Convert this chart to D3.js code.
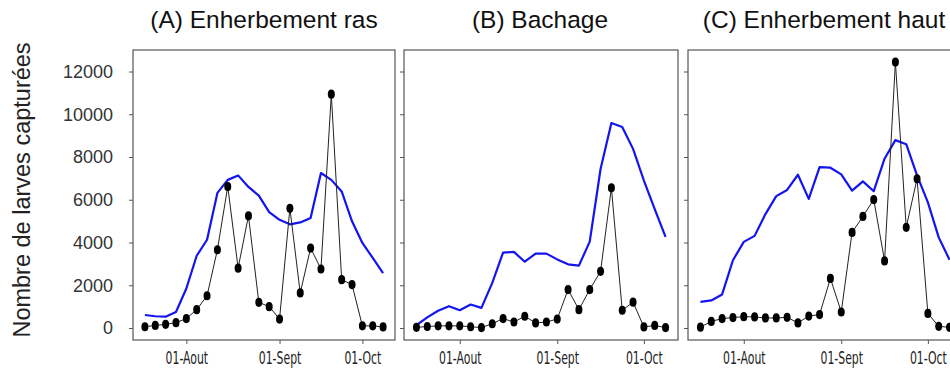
<!DOCTYPE html>
<html>
<head>
<meta charset="utf-8">
<script src="https://cdn.jsdelivr.net/npm/d3@7"></script>
<style>
  body { margin: 0; background: #fff; }
  svg { display: block; }
</style>
</head>
<body>
<div id="chart"></div>
<script>
// sampling dates are shown only through three tick labels, placed at sample numbers
const tickLabels = ["01-Aout", "01-Sept", "01-Oct"];
const tickSamples = [4, 13, 21];
const yTicks = [0, 2000, 4000, 6000, 8000, 10000, 12000];

const panelTitles = ["(A) Enherbement ras", "(B) Bachage", "(C) Enherbement haut"];

// captured larvae per sample (black points)
const capturesA = [60, 120, 170, 250, 440, 860, 1510, 3660, 6620, 2800, 5250, 1200, 1000, 420,
                   5600, 1640, 3740, 2760, 10940, 2260, 2030, 100, 100, 50];
const capturesB = [30, 70, 100, 100, 100, 60, 20, 200, 440, 280, 550, 240, 280, 420,
                   1800, 860, 1800, 2650, 6560, 830, 1210, 50, 120, 20];
const capturesC = [40, 310, 440, 490, 530, 520, 470, 470, 500, 240, 560, 630, 2320, 750,
                   4470, 5220, 6010, 3140, 12440, 4710, 6980, 680, 80, 30];

// trend curves (blue)
const trendA = [610, 550, 530, 750, 1850, 3380, 4130, 6320, 6930, 7140, 6600, 6190, 5420, 5060,
                4850, 4940, 5150, 7250, 6930, 6390, 4990, 3980, 3280, 2570];
const trendB = [130, 500, 810, 1020, 830, 1100, 940, 2110, 3530, 3560, 3100, 3480, 3480, 3210,
                2980, 2920, 4040, 7440, 9590, 9400, 8380, 6900, 5560, 4260];
const trendC = [1220, 1290, 1570, 3170, 4030, 4310, 5330, 6170, 6460, 7170, 6040, 7530, 7500, 7190,
                6430, 6860, 6400, 7920, 8790, 8600, 7140, 5880, 4240, 3190];

const width = 950, height = 369;
const plotTop = 50, plotBottom = 340;

const panels = [
  { title: panelTitles[0], captures: capturesA, trend: trendA, x0: 133, x1: 395, labels: true },
  { title: panelTitles[1], captures: capturesB, trend: trendB, x0: 404, x1: 678, labels: false },
  { title: panelTitles[2], captures: capturesC, trend: trendC, x0: 688, x1: 962, labels: false }
];

const svg = d3.select("#chart")
  .append("svg")
  .attr("width", width)
  .attr("height", height);

const y = d3.scaleLinear()
  .domain([-561, 13006])
  .range([plotBottom, plotTop]);

panels.forEach(p => {
  const x = d3.scaleLinear()
    .domain([-1.15, 24.15])
    .range([p.x0, p.x1]);

  const g = svg.append("g");

  // title
  g.append("text")
    .attr("x", (p.x0 + p.x1) / 2 - (p.labels ? 0 : 1))
    .attr("y", 28)
    .attr("text-anchor", "middle")
    .style("font-family", "'Liberation Sans', Arial, sans-serif")
    .style("font-size", "24.5px")
    .style("fill", "#111")
    .text(p.title);

  // y axis
  const yAxis = g.append("g")
    .attr("transform", `translate(${p.x0},0)`)
    .call(d3.axisLeft(y)
      .tickValues(yTicks)
      .tickSize(4)
      .tickPadding(16)
      .tickFormat(p.labels ? d => d : () => ""));
  yAxis.select(".domain").remove();
  yAxis.selectAll("line").attr("stroke", "#555");
  yAxis.selectAll("text")
    .style("font-family", "'Liberation Sans', Arial, sans-serif")
    .style("font-size", "18px")
    .style("fill", "#333");

  // x axis
  const xAxis = g.append("g")
    .attr("transform", `translate(0,${plotBottom})`)
    .call(d3.axisBottom(x)
      .tickValues(tickSamples)
      .tickSize(4)
      .tickFormat((d, i) => tickLabels[i]));
  xAxis.select(".domain").remove();
  xAxis.selectAll("line").attr("stroke", "#555");
  xAxis.selectAll("text")
    .attr("y", 24)
    .attr("dy", 0)
    .attr("transform", "scale(0.64,1)")
    .style("font-family", "'DejaVu Sans', sans-serif")
    .style("font-size", "17px")
    .style("fill", "#222");

  // frame
  g.append("rect")
    .attr("x", p.x0)
    .attr("y", plotTop)
    .attr("width", p.x1 - p.x0)
    .attr("height", plotBottom - plotTop)
    .attr("fill", "none")
    .attr("stroke", "#555")
    .attr("stroke-width", 1.2);

  const line = d3.line()
    .x((d, i) => x(i))
    .y(d => y(d));

  g.append("path")
    .datum(p.trend)
    .attr("d", line)
    .attr("fill", "none")
    .attr("stroke", "#1414f0")
    .attr("stroke-width", 2.2)
    .attr("stroke-linejoin", "round");

  g.append("path")
    .datum(p.captures)
    .attr("d", line)
    .attr("fill", "none")
    .attr("stroke", "#222")
    .attr("stroke-width", 1);

  g.selectAll(".pt")
    .data(p.captures)
    .enter().append("ellipse")
    .attr("class", "pt")
    .attr("cx", (d, i) => x(i))
    .attr("cy", d => y(d))
    .attr("rx", 3.5)
    .attr("ry", 4.6)
    .attr("fill", "#000");
});

// shared y label
svg.append("text")
  .attr("transform", "translate(30,190) rotate(-90)")
  .attr("text-anchor", "middle")
  .style("font-family", "'Liberation Sans', Arial, sans-serif")
  .style("font-size", "23.5px")
  .style("fill", "#222")
  .text("Nombre de larves capturées");
</script>
</body>
</html>
